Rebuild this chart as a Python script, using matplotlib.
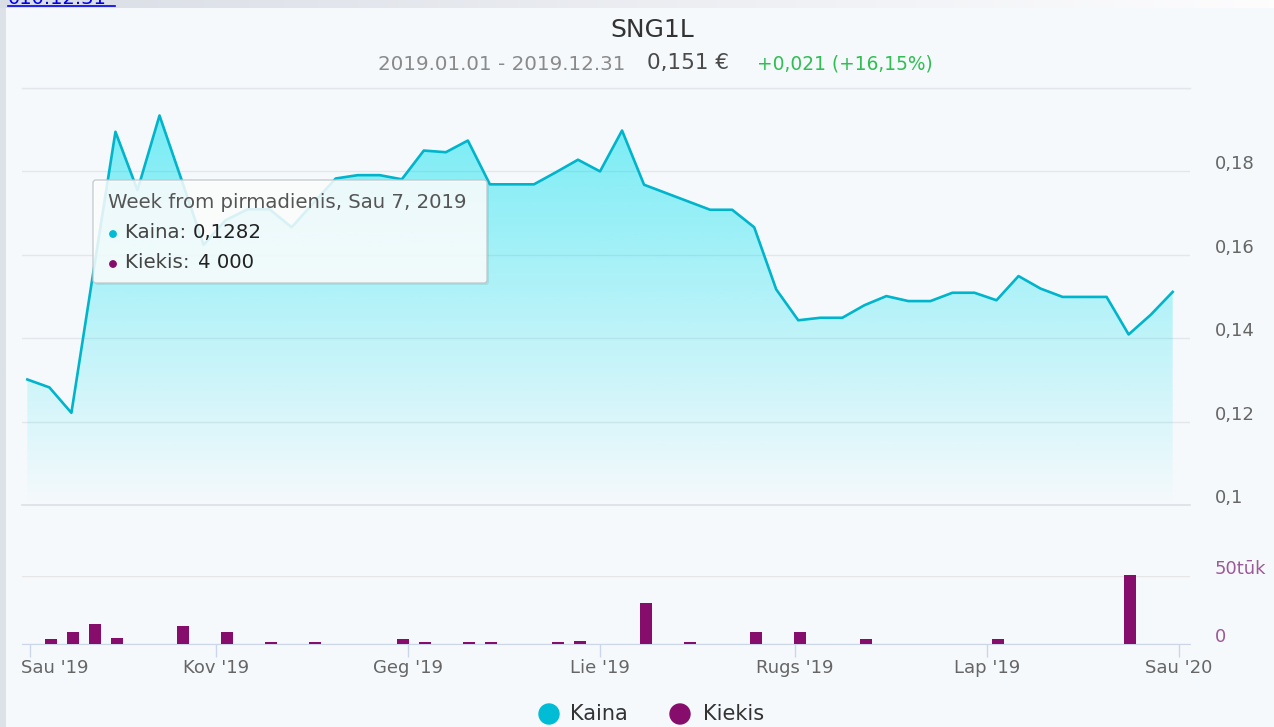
import numpy as np
import pandas as pd
import matplotlib
matplotlib.use("Agg")
import matplotlib.pyplot as plt
import matplotlib.dates as mdates
from matplotlib.colors import LinearSegmentedColormap, to_rgb
from matplotlib.patches import Rectangle, FancyBboxPatch, Circle
from matplotlib.transforms import ScaledTranslation

# weekly points (week starting Monday)
weeks = pd.date_range("2018-12-31", periods=53, freq="7D")

price = [0.1301, 0.1282, 0.1221, 0.1560, 0.1895, 0.1755, 0.1934, 0.1780, 0.1624, 0.1683,
         0.1709, 0.1709, 0.1666, 0.1725, 0.1783, 0.1791, 0.1791, 0.1781, 0.1850, 0.1846,
         0.1874, 0.1769, 0.1769, 0.1769, 0.1798, 0.1828, 0.1800, 0.1898, 0.1768, 0.1748,
         0.1728, 0.1708, 0.1708, 0.1666, 0.1517, 0.1443, 0.1449, 0.1449, 0.1479, 0.1501,
         0.1489, 0.1489, 0.1509, 0.1509, 0.1491, 0.1549, 0.1519, 0.1499, 0.1499, 0.1499,
         0.1409, 0.1456, 0.1511]

volume = [0, 4000, 9000, 14500, 4500, 0, 0, 13500, 0, 9000,
          0, 1500, 0, 1500, 0, 0, 0, 4000, 1500, 0,
          1500, 1500, 0, 0, 1500, 2500, 0, 0, 30500, 0,
          1500, 0, 0, 9000, 0, 9000, 0, 0, 4000, 0,
          0, 0, 0, 0, 4000, 0, 0, 0, 0, 0,
          50500, 0, 0]

price_ticks = [0.1, 0.12, 0.14, 0.16, 0.18, 0.2]
price_labels = ["0,1", "0,12", "0,14", "0,16", "0,18", ""]
vol_ticks = [0, 50000]
vol_labels = ["0", "50tūk"]
month_ticks = pd.to_datetime(["2019-01-01", "2019-03-01", "2019-05-01", "2019-07-01",
                              "2019-09-01", "2019-11-01", "2020-01-01"])
month_labels = ["Sau '19", "Kov '19", "Geg '19", "Lie '19", "Rugs '19", "Lap '19", "Sau '20"]

LINE = "#00b4cc"
FILL = "#00e0ee"
PURPLE = "#870d6c"
PANEL = "#f5f9fc"
TXT = "#666666"

plt.rcParams["font.family"] = ["DejaVu Sans"]

W, H = 1274, 727
fig = plt.figure(figsize=(W / 100, H / 100), dpi=100)
fig.patch.set_facecolor("#dde1e8")


def rect(l, t, r, b):
    return [l / W, 1 - b / H, (r - l) / W, (b - t) / H]


# background panel + top strip
bg = fig.add_axes([0, 0, 1, 1], zorder=0)
bg.axis("off")
bg.add_patch(Rectangle((6, 8), W - 6, H - 8, color=PANEL, lw=0))
cmap_top = LinearSegmentedColormap.from_list("top", ["#d9dde5", "#fdfdfe"])
bg.imshow(np.linspace(0, 1, 256).reshape(1, -1), extent=(0, W, 8, 0),
          cmap=cmap_top, aspect="auto")
bg.set_xlim(0, W)
bg.set_ylim(H, 0)

t0 = pd.Timestamp("2019-01-01")
xmin = mdates.date2num(t0 + pd.Timedelta(days=-2.7))
xmax = mdates.date2num(t0 + pd.Timedelta(days=368.5))

# --- price pane ---
ax = fig.add_axes(rect(22, 88, 1190, 505), zorder=2)
ax.patch.set_alpha(0)
ax.plot(weeks, price, color=LINE, lw=1.9, zorder=3)
poly = ax.fill_between(weeks, price, 0.1, color="none", lw=0)
rgba = np.zeros((256, 1, 4))
rgba[..., :3] = to_rgb(FILL)
rgba[..., 3] = np.linspace(0.55, 0.0, 256).reshape(-1, 1)
im = ax.imshow(rgba, extent=(xmin, xmax, 0.1, 0.2), aspect="auto", origin="upper", zorder=2)
im.set_clip_path(poly.get_paths()[0], transform=ax.transData)
ax.set_xlim(xmin, xmax)
ax.set_ylim(0.1, 0.2)
ax.set_yticks(price_ticks)
ax.set_yticklabels(price_labels)
ax.yaxis.tick_right()
ax.tick_params(axis="y", length=0, pad=18, labelsize=13, labelcolor=TXT)
ax.tick_params(axis="x", bottom=False, labelbottom=False)
ax.grid(axis="y", color="#e3e6eb", lw=1)
ax.axhline(0.1, color="#dcdfe5", lw=1.2, clip_on=False, zorder=1)
ax.axhline(0.2, color="#e3e6eb", lw=1, clip_on=False, zorder=1)
for s in ax.spines.values():
    s.set_visible(False)
up = ScaledTranslation(0, 0.09, fig.dpi_scale_trans)
for t in ax.yaxis.get_major_ticks():
    t.label2.set_transform(t.label2.get_transform() + up)

# --- volume pane ---
vax = fig.add_axes(rect(22, 576, 1190, 644), zorder=2)
vax.patch.set_alpha(0)
vax.bar(weeks + pd.Timedelta(hours=12), volume, width=3.8, color=PURPLE, lw=0,
        clip_on=False, zorder=3)
vax.set_xlim(xmin, xmax)
vax.set_ylim(0, 50000)
vax.set_yticks(vol_ticks)
vax.set_yticklabels(vol_labels)
vax.yaxis.tick_right()
vax.tick_params(axis="y", length=0, pad=18, labelsize=13, labelcolor="#9c5a98")
vax.grid(axis="y", color="#e6e6e6", lw=1)
for k in ["top", "left", "right"]:
    vax.spines[k].set_visible(False)
vax.spines["bottom"].set_color("#ccd6eb")
vax.set_xticks(mdates.date2num(month_ticks))
vax.set_xticklabels(month_labels)
vax.tick_params(axis="x", length=9, width=1, color="#ccd6eb", pad=1.5,
                labelsize=13, labelcolor=TXT)
for t in vax.yaxis.get_major_ticks():
    t.label2.set_transform(t.label2.get_transform() + up)
first = vax.xaxis.get_major_ticks()[0].label1
first.set_horizontalalignment("left")
first.set_transform(first.get_transform() + ScaledTranslation(-0.09, 0, fig.dpi_scale_trans))

# --- foreground: titles, tooltip, legend ---
fg = fig.add_axes([0, 0, 1, 1], zorder=5)
fg.axis("off")
fg.set_xlim(0, W)
fg.set_ylim(H, 0)

fg.text(8, -2, "010.12.31", color="#0000ee", fontsize=14, va="center", ha="left")
fg.plot([8, 115], [6, 6], color="#0000ee", lw=1.2)

fg.text(652, 30, "SNG1L", fontsize=18, color="#333333", ha="center", va="center")
fg.text(625, 64, "2019.01.01 - 2019.12.31", fontsize=14.3, color="#8a8a8a",
        ha="right", va="center")
fg.text(647, 63, "0,151 €", fontsize=15.5, color="#4a4a4a", ha="left", va="center")
fg.text(757, 64, "+0,021 (+16,15%)", fontsize=13.4, color="#30be52", ha="left", va="center")

shadow = FancyBboxPatch((95, 182), 394, 103, boxstyle="round,pad=0,rounding_size=3",
                        fc="black", ec="none", alpha=0.07)
fg.add_patch(shadow)
tip = FancyBboxPatch((93, 180), 394, 103, boxstyle="round,pad=0,rounding_size=3",
                     fc="white", ec="#c0c4c8", lw=1, alpha=0.85)
fg.add_patch(tip)
fg.text(108, 203, "Week from pirmadienis, Sau 7, 2019", fontsize=14.2, color="#555555",
        va="center", ha="left")
fg.add_patch(Circle((113, 234), 3.2, color="#00bcd4"))
fg.text(125, 233, "Kaina: ", fontsize=14.2, color="#444444", va="center", ha="left")
fg.text(193, 233, "0,1282", fontsize=14.2, color="#222222", va="center", ha="left")
fg.add_patch(Circle((113, 264), 3.2, color=PURPLE))
fg.text(125, 263, "Kiekis: ", fontsize=14.2, color="#444444", va="center", ha="left")
fg.text(198, 263, "4 000", fontsize=14.2, color="#222222", va="center", ha="left")

fg.add_patch(Circle((549, 714), 10, color="#00bcd4"))
fg.text(570, 714, "Kaina", fontsize=15, color="#333333", va="center", ha="left")
fg.add_patch(Circle((680, 714), 10, color=PURPLE))
fg.text(703, 714, "Kiekis", fontsize=15, color="#333333", va="center", ha="left")

fig.savefig("out.png", dpi=100, facecolor=fig.get_facecolor())
